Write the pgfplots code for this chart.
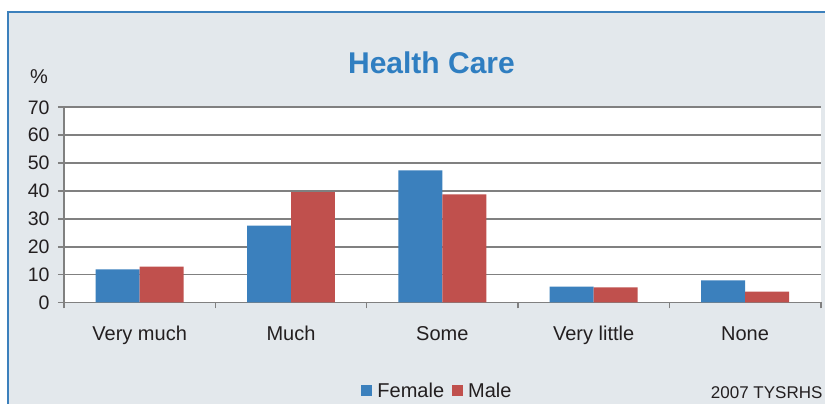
\documentclass[border=0pt]{standalone}
\usepackage{pgfplots}
\pgfplotsset{compat=1.18}
\usepackage{fontspec}
\setmainfont{Liberation Sans}
\definecolor{bg}{HTML}{E3E8EC}
\definecolor{frame}{HTML}{3C80BC}
\definecolor{fem}{HTML}{3B80BD}
\definecolor{mal}{HTML}{C0504D}
\definecolor{ttl}{HTML}{2F7EC1}
\definecolor{gr}{HTML}{808080}
\definecolor{txt}{HTML}{231F20}
\begin{document}
\begin{tikzpicture}
\fill[white] (0pt,0pt) rectangle (825pt,404pt);
\fill[bg] (8pt,0pt) rectangle (825pt,392pt);
\draw[frame,line width=1.5pt] (8pt,0pt) -- (8pt,392pt) -- (825pt,392pt);
\node[anchor=base,text=ttl,font=\fontsize{30}{36}\selectfont\bfseries] at (431.5pt,330pt) {Health Care};
\node[text=txt,font=\fontsize{20}{24}\selectfont] at (39pt,327pt) {\%};
\node[anchor=base east,text=txt,font=\fontsize{17}{20}\selectfont] at (826pt,5pt) {2007 TYSRHS};
\begin{axis}[
  at={(64pt,101.5pt)}, anchor=south west,
  scale only axis, width=756.7pt, height=195.2pt,
  xmin=0, xmax=5, ymin=0, ymax=70,
  ybar=0pt, bar width=0.2906,
  axis background/.style={fill=white},
  axis x line*=bottom, axis y line*=left,
  axis line style={gr, line width=1.6pt},
  ytick={0,10,...,70},
  ymajorgrids, grid style={gr, line width=1.6pt},
  xtick={0.5,1.5,2.5,3.5,4.5},
  xticklabels={Very much,Much,Some,Very little,None},
  minor xtick={0,1,2,3,4,5},
  major x tick style={draw=none},
  tick align=outside, major tick length=6pt, minor tick length=6pt,
  tick style={gr, line width=1.6pt},
  /pgf/number format/assume math mode=true,
  ticklabel style={font=\fontsize{19.5}{22}\selectfont, text=txt},
  xticklabel style={anchor=base, yshift=-32.5pt, font=\fontsize{20}{24}\selectfont},
  yticklabel style={anchor=east, xshift=-5pt},
  legend style={at={(0.4936,-0.453)}, anchor=center, draw=none, fill=none,
    legend columns=2, font=\fontsize{20}{24}\selectfont, text=txt,
    /tikz/every odd column/.append style={column sep=3pt},
    /tikz/every even column/.append style={column sep=6pt},
    outer sep=0pt, inner sep=0pt},
  legend image code/.code={\fill[#1] (0pt,-5.5pt) rectangle (11pt,5.5pt);},
]
\addplot[draw=none, fill=fem] coordinates {(0.5,11.9) (1.5,27.6) (2.5,47.4) (3.5,5.7) (4.5,7.9)};
\addplot[draw=none, fill=mal] coordinates {(0.5,12.9) (1.5,39.6) (2.5,38.8) (3.5,5.4) (4.5,3.9)};
\legend{Female,Male}
\end{axis}
\pgfresetboundingbox
\path[use as bounding box] (0pt,0pt) rectangle (825pt,404pt);
\end{tikzpicture}
\end{document}
